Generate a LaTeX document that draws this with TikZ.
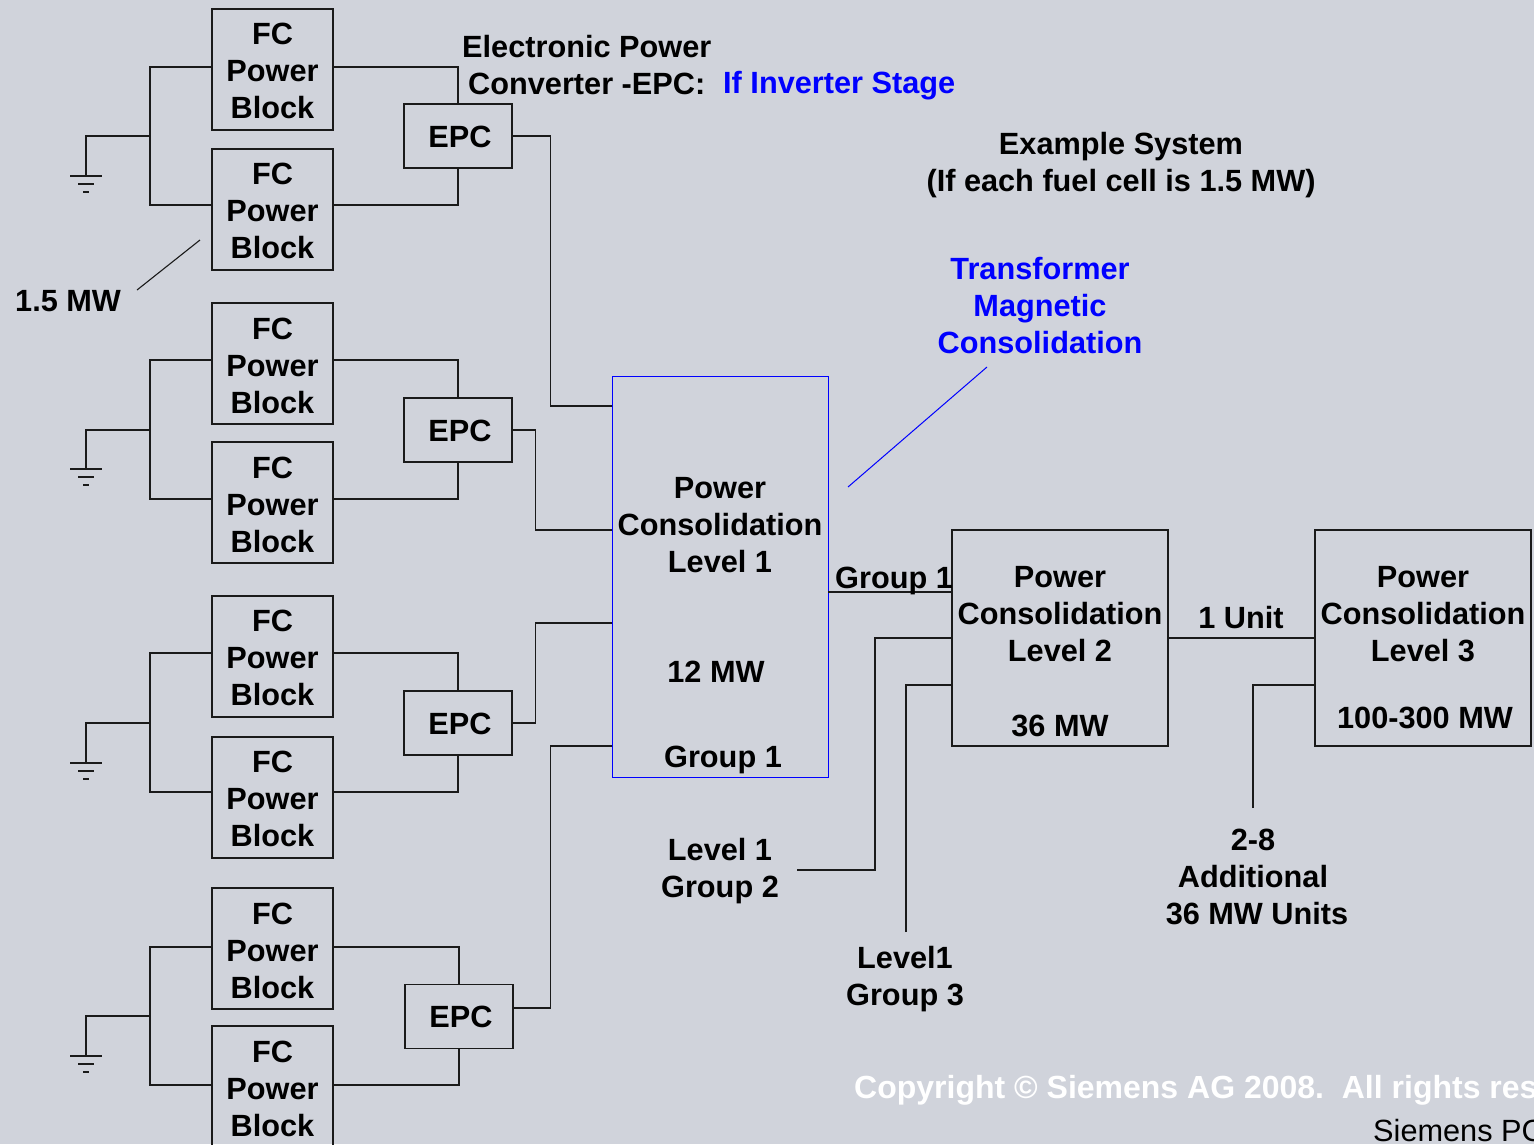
\documentclass[tikz,border=0pt]{standalone}
\usepackage{fontspec}
\setmainfont{Liberation Sans}
\definecolor{bgc}{HTML}{D0D3DB}
\definecolor{inkc}{HTML}{1A1A1A}
\definecolor{bluec}{HTML}{0000FF}
\tikzset{
  wire/.style={draw=inkc,line width=1.2pt},
  bluewire/.style={draw=bluec,line width=1pt},
  txt/.style={inner sep=0pt,align=center,text=black,font=\fontsize{30.7}{37}\selectfont\bfseries},
  bluetxt/.style={txt,text=bluec},
  fcbox/.style={txt,draw=inkc,line width=1.2pt,minimum width=121pt,minimum height=121pt},
  epcbox/.style={txt,draw=inkc,line width=1.2pt,minimum width=108pt,minimum height=64pt},
  lvlbox/.style={draw=inkc,line width=1.2pt,minimum width=216pt,minimum height=216pt,inner sep=0pt},
}
\newcommand{\gnd}[1]{%
  \draw[wire] (#1) ++(-16,0) -- ++(32,0);
  \draw[wire] (#1) ++(-8,8) -- ++(16,0);
  \draw[wire] (#1) ++(-3,16) -- ++(6,0);
}
\newcommand{\fclines}[1]{\rule{0pt}{\dimexpr 22.4pt+#1pt\relax}FC\\Power\\Block}
\newcommand{\epcline}{\hspace*{4pt}\rule{0pt}{22.8pt}EPC}
\begin{document}
\begin{tikzpicture}[x=1pt,y=-1pt]
\useasboundingbox (0,0) rectangle (1534,1144);
\fill[bgc] (0,0) rectangle (1534,1144);
\begin{scope}
\clip (0,0) rectangle (1534,1144);
% FC blocks
\node[fcbox] (a1) at (272.5,69.5) {\fclines{2}};
\node[fcbox] (a2) at (272.5,209.5) {\fclines{2}};
\node[fcbox] (b1) at (272.5,363.5) {\fclines{3}};
\node[fcbox] (b2) at (272.5,502.5) {\fclines{3}};
\node[fcbox] (c1) at (272.5,656.5) {\fclines{2}};
\node[fcbox] (c2) at (272.5,797.5) {\fclines{2}};
\node[fcbox] (d1) at (272.5,948.5) {\fclines{4}};
\node[fcbox] (d2) at (272.5,1086.5) {\fclines{4}};
% EPC
\node[epcbox] (e1) at (458,136) {\epcline};
\node[epcbox] (e2) at (458,430) {\epcline};
\node[epcbox] (e3) at (458,723) {\epcline};
\node[epcbox] (e4) at (459,1016.5) {\epcline};
% Consolidation boxes
\node[draw=bluec,line width=1pt,minimum width=216pt,minimum height=401pt,inner sep=0pt] (L1) at (720,576.5) {};
\node[lvlbox] (L2) at (1060,638) {};
\node[lvlbox] (L3) at (1423,638) {};
% grounds and buses
\coordinate (ga) at (150,136); \coordinate (ga0) at (86,176);
\coordinate (gb) at (150,430); \coordinate (gb0) at (86,469);
\coordinate (gc) at (150,723); \coordinate (gc0) at (86,763);
\coordinate (gd) at (150,1016); \coordinate (gd0) at (86,1056);
\foreach \u/\v/\g/\e/\su/\sv in {a1/a2/ga/e1/2.5/4.5,b1/b2/gb/e2/3.5/3.5,c1/c2/gc/e3/3.5/5.5,d1/d2/gd/e4/1.5/1.5}{
  \draw[wire] ([yshift=\su pt]\u.west) -| (\g) |- ([yshift=\sv pt]\v.west);
  \draw[wire] (\g) -| (\g0);
  \draw[wire] ([yshift=\su pt]\u.east) -| (\e.north);
  \draw[wire] ([yshift=\sv pt]\v.east) -| (\e.south);
}
\gnd{ga0}\gnd{gb0}\gnd{gc0}\gnd{gd0}
% EPC to level 1
\coordinate (p1) at (612,406);
\coordinate (p2) at (612,530);
\coordinate (p3) at (612,623);
\coordinate (p4) at (612,746);
\draw[wire] (e1.east) -- ++(38,0) |- (p1);
\draw[wire] (e2.east) -- ++(23,0) |- (p2);
\draw[wire] (e3.east) -- ++(23,0) |- (p3);
\draw[wire] ([yshift=8.5pt]e4.east) -- ++(37,0) |- (p4);
% consolidation links
\coordinate (q1) at (828,592);
\coordinate (q2) at (952,592);
\draw[wire] (q1) -- (q2);
\draw[wire] (L2.east) -- (L3.west);
\coordinate (s1) at (797,870);
\coordinate (s2) at (906,932);
\coordinate (s3) at (1253,808);
\coordinate (r1) at (952,685);
\coordinate (r2) at (1315,685);
\draw[wire] (s1) -- ++(78,0) |- (L2.west);
\draw[wire] (s2) |- (r1);
\draw[wire] (s3) |- (r2);
% leader lines
\coordinate (m1) at (137,290); \coordinate (m2) at (200,240);
\draw[draw=inkc,line width=1.1pt] (m1) -- (m2);
\coordinate (t1) at (848,487); \coordinate (t2) at (987,367);
\draw[bluewire] (t1) -- (t2);
% labels
\node[txt] (n1) at (720,525) {Power\\Consolidation\\Level 1};
\node[txt] (n2) at (716,672) {12 MW};
\node[txt] (n3) at (723,760) {Group 1};
\node[txt] (n4) at (1060,614) {Power\\Consolidation\\Level 2};
\node[txt] (n5) at (1060,726) {36 MW};
\node[txt] (n6) at (1423,614) {Power\\Consolidation\\Level 3};
\node[txt] (n7) at (1425,718) {100-300 MW};
\node[txt,anchor=west] (n8) at (462,47) {Electronic Power};
\node[txt,anchor=west] (n9) at (468,84) {Converter -EPC:};
\node[bluetxt,anchor=west] (n10) at (723,86) {If Inverter Stage};
\node[txt] (n11) at (1121,165) {Example System\\(If each fuel cell is 1.5 MW)};
\node[bluetxt] (n12) at (1040,306) {Transformer\\Magnetic\\Consolidation};
\node[txt,anchor=west] (n13) at (15,301) {1.5 MW};
\node[txt,anchor=west] (n14) at (835,581) {Group 1};
\node[txt] (n15) at (1241,618) {1 Unit};
\node[txt] (n16) at (720,871) {Level 1\\Group 2};
\node[txt] (n17) at (905,979) {Level1\\Group 3};
\node[txt] (n18) at (1253,876.5) {2-8\\Additional\\\hspace*{8pt}36 MW Units};
\node[txt,anchor=west,text=white,font=\fontsize{32}{37}\selectfont\bfseries] (n19) at (854,1090) {Copyright © Siemens AG 2008.\ \ All rights res};
\node[txt,anchor=west,font=\fontsize{30.7}{37}\selectfont] (n20) at (1373,1131) {Siemens PG};
\end{scope}
\end{tikzpicture}
\end{document}
